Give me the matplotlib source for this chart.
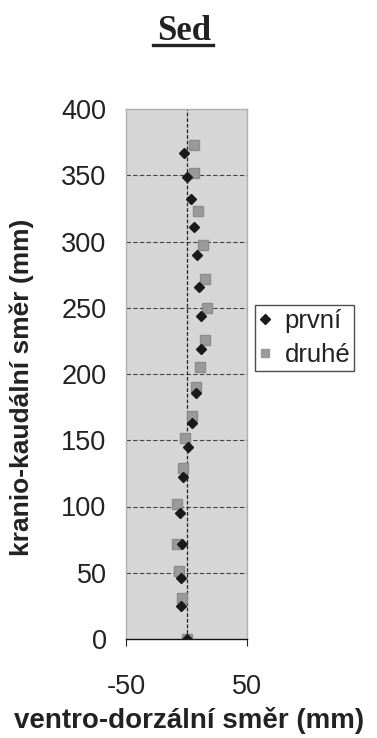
import matplotlib
matplotlib.use('Agg')
import matplotlib.pyplot as plt
from matplotlib.lines import Line2D

# Souřadnice bodů - první měření (kosočtverce)
prvni_x = [0, -4.5, -4.5, -3.5, -5.4, -2.5, 1, 4.3, 8, 12, 11.7, 10.6, 8.4, 6.2, 3.4, 0.7, -2]
prvni_y = [0, 25, 46, 72, 95, 122, 145, 163, 186, 219, 244, 266, 290, 311, 332, 349, 367]

# Souřadnice bodů - druhé měření (čtverce)
druhe_x = [0, -4, -6, -8.1, -8.1, -2.6, -1.2, 4.3, 7.9, 11.2, 15.3, 17.2, 15.3, 13.4, 9.2, 6, 6.2]
druhe_y = [0, 31, 51, 72, 102, 129, 152, 168, 190, 205, 226, 250, 272, 297, 323, 352, 373]

x_ticks = [-50, 50]
y_ticks = [0, 50, 100, 150, 200, 250, 300, 350, 400]

plt.rcParams['font.family'] = ['Liberation Sans', 'DejaVu Sans']
plt.rcParams['axes.unicode_minus'] = False

fig = plt.figure(figsize=(3.77, 7.38), dpi=100)
W, H = 377, 738
ax = fig.add_axes([126 / W, 1 - 639 / H, 121 / W, 530 / H])
ax.set_facecolor('#d6d6d6')

# mřížka
for y in y_ticks[1:-1]:
    ax.axhline(y, color='#444444', lw=0.8, ls=(0, (4, 2)), zorder=1)
ax.axvline(0, color='#222222', lw=0.9, ls=(0, (3, 1.5)), zorder=1)

ax.plot(druhe_x, druhe_y, 's', color='#9a9a9a', ms=6.5, mec='#8c8c8c', zorder=3, label='druhé')
ax.plot(prvni_x, prvni_y, 'D', color='#1a1a1a', ms=5.5, zorder=4, label='první')

ax.set_xlim(-50, 50)
ax.set_ylim(0, 400)
ax.set_xticks(x_ticks)
ax.set_yticks(y_ticks)
ax.tick_params(axis='y', length=0, pad=14, labelsize=19.5, colors='#222222')
ax.tick_params(axis='x', length=5, direction='out', pad=20, labelsize=19.5, colors='#222222')
for s in ['left', 'top', 'right']:
    ax.spines[s].set_color('#b0b0b0')
    ax.spines[s].set_linewidth(1.0)
ax.spines['bottom'].set_color('#111111')
ax.spines['bottom'].set_linewidth(1.0)

fig.text(22 / W, 1 - 387 / H, 'kranio-kaudální směr (mm)', rotation=90,
         ha='center', va='center', fontsize=19, fontweight='bold', color='#222222')
fig.text(189 / W, 1 - 720 / H, 'ventro-dorzální směr (mm)',
         ha='center', va='center', fontsize=20, fontweight='bold', color='#222222')

# nadpis s podtržením
fig.text(184 / W, 1 - 31 / H, 'Sed', ha='center', va='center', fontsize=25,
         fontweight='bold', family='Liberation Serif', color='#222222')
fig.add_artist(Line2D([153 / W, 213 / W], [1 - 45 / H, 1 - 45 / H],
                      transform=fig.transFigure, color='#222222', lw=2.4))

handles = [Line2D([], [], marker='D', ls='none', color='#1a1a1a', ms=5),
           Line2D([], [], marker='s', ls='none', color='#9a9a9a', ms=6)]
leg = ax.legend(handles, ['první', 'druhé'], loc='upper left',
                bbox_to_anchor=(255 / W, 1 - 305 / H), bbox_transform=fig.transFigure,
                fontsize=18.5, frameon=True, fancybox=False, borderpad=0.15,
                handlelength=0.5, handletextpad=0.5, labelspacing=0.4, borderaxespad=0)
leg.get_frame().set_edgecolor('#222222')
leg.get_frame().set_linewidth(1.0)
for t in leg.get_texts():
    t.set_color('#222222')

fig.savefig('out.png', dpi=100)
